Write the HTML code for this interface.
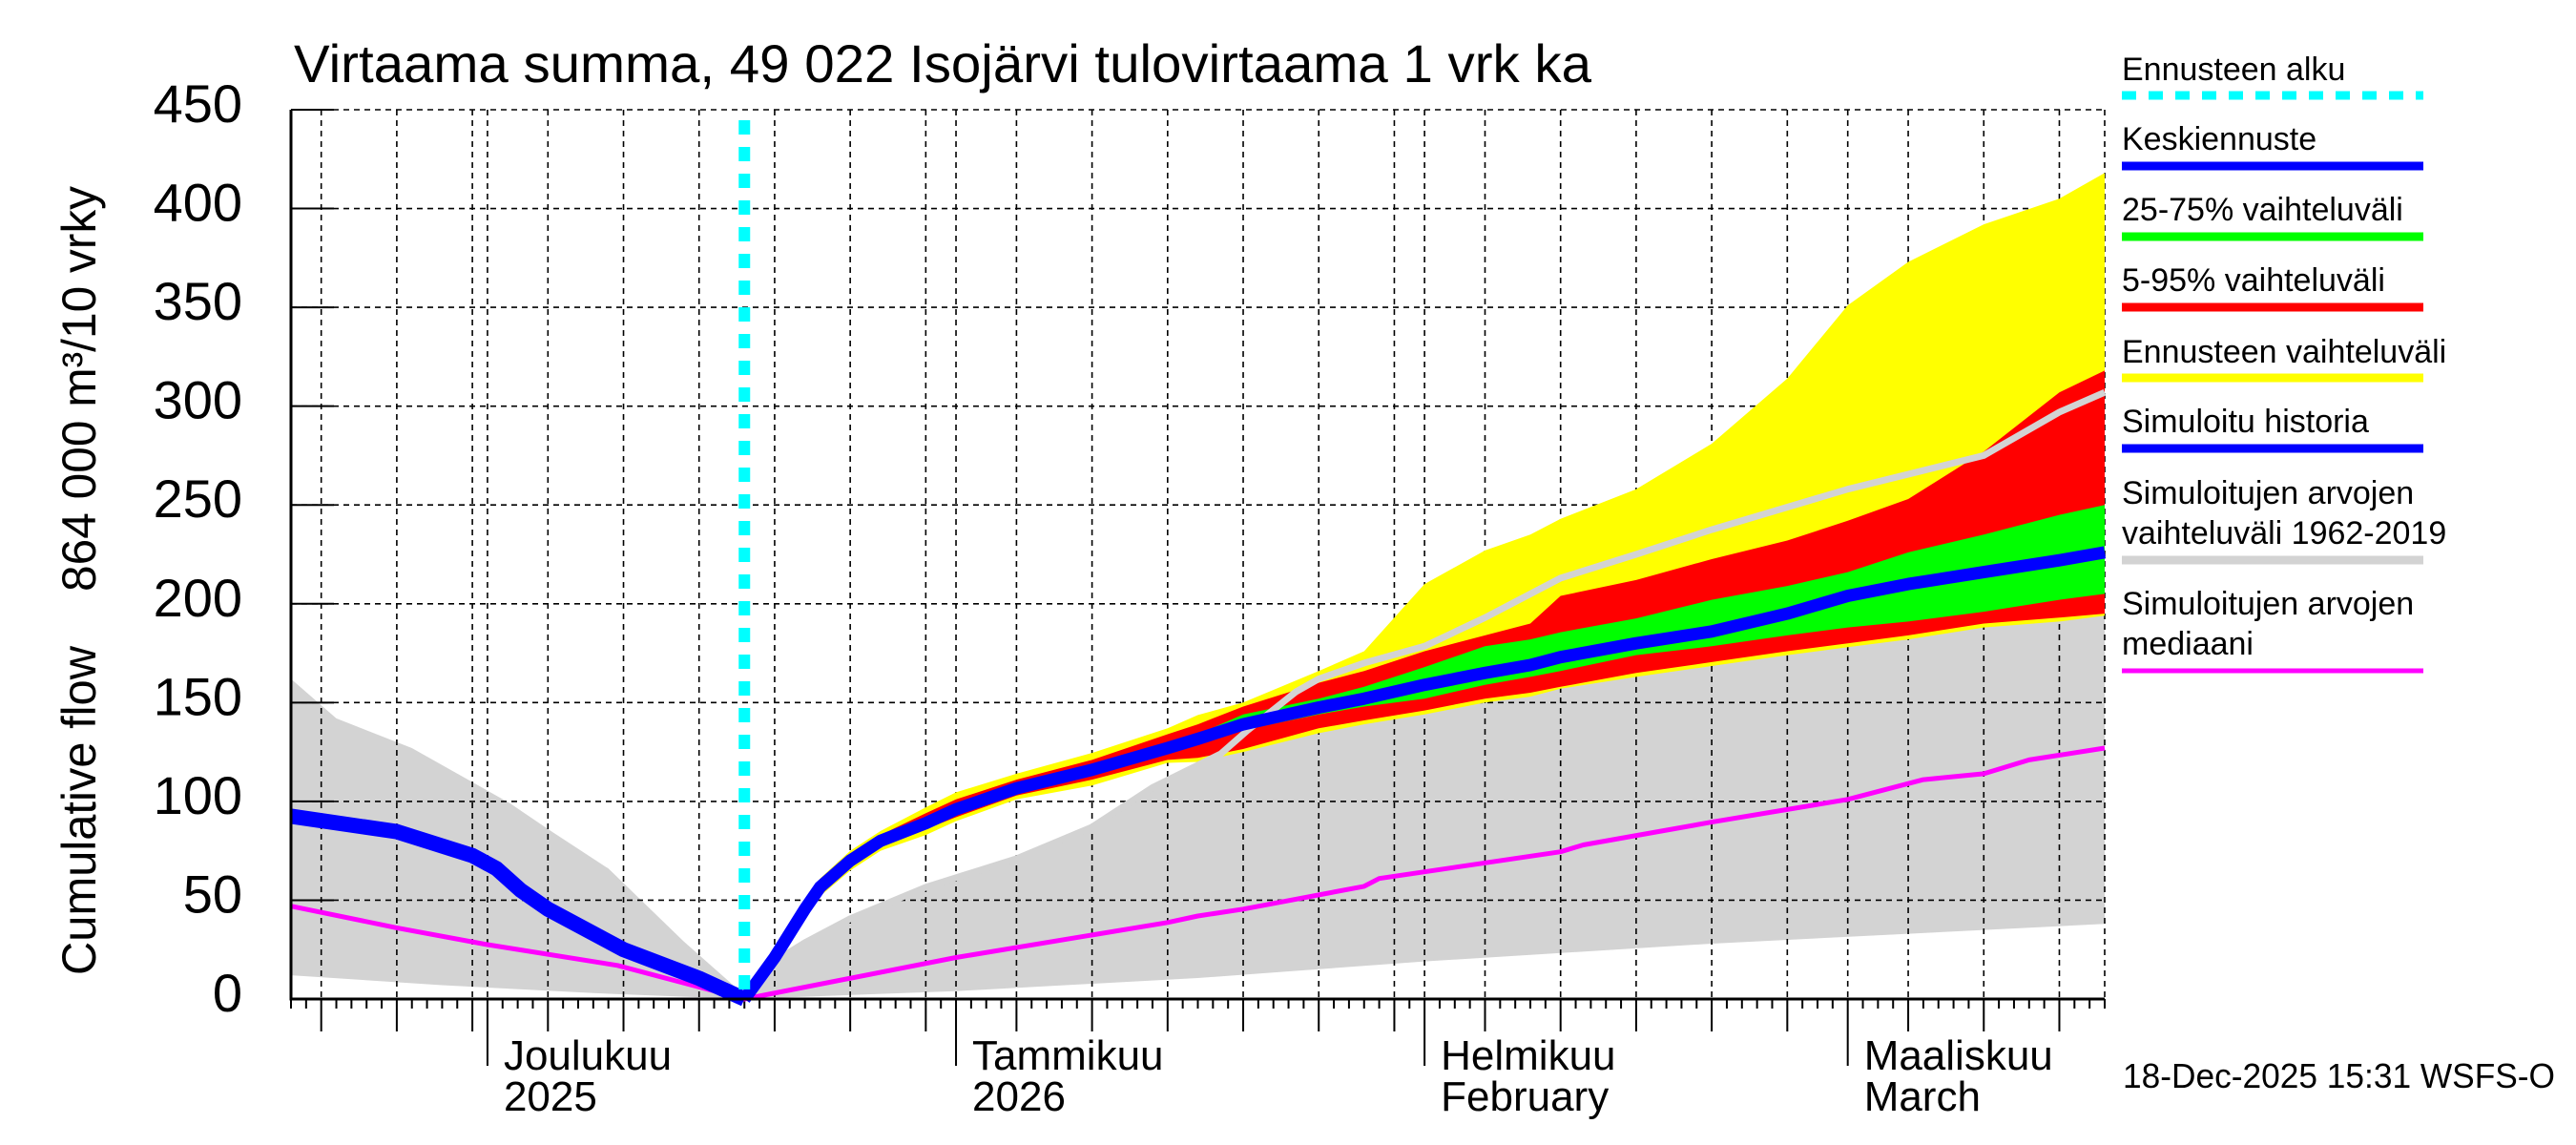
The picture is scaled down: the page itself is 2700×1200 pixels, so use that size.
<!DOCTYPE html>
<html><head><meta charset="utf-8"><style>
html,body{margin:0;padding:0;background:#fff;}
svg{display:block;font-family:"Liberation Sans",sans-serif;}
</style></head><body>
<svg id="chart" width="2700" height="1200" viewBox="0 0 2700 1200" xmlns="http://www.w3.org/2000/svg">
<rect x="0" y="0" width="2700" height="1200" fill="#fff"/>
<g id="plot"></g>
<text x="308" y="86" font-size="56" textLength="1360" lengthAdjust="spacingAndGlyphs">Virtaama summa, 49 022 Isojärvi tulovirtaama 1 vrk ka</text>
<text transform="translate(100,1022) rotate(-90)" font-size="50" textLength="345" lengthAdjust="spacingAndGlyphs">Cumulative flow</text>
<text transform="translate(100,620) rotate(-90)" font-size="50" textLength="425" lengthAdjust="spacingAndGlyphs">864 000 m³/10 vrky</text>
<g font-size="34">
<text x="2224" y="84">Ennusteen alku</text>
<line x1="2224" y1="100" x2="2540" y2="100" stroke="#00ffff" stroke-width="9" stroke-dasharray="15 13"/>
<text x="2224" y="157">Keskiennuste</text>
<line x1="2224" y1="174" x2="2540" y2="174" stroke="#0000ff" stroke-width="9"/>
<text x="2224" y="231">25-75% vaihteluväli</text>
<line x1="2224" y1="248" x2="2540" y2="248" stroke="#00ff00" stroke-width="9"/>
<text x="2224" y="305">5-95% vaihteluväli</text>
<line x1="2224" y1="322" x2="2540" y2="322" stroke="#ff0000" stroke-width="9"/>
<text x="2224" y="380">Ennusteen vaihteluväli</text>
<line x1="2224" y1="396" x2="2540" y2="396" stroke="#ffff00" stroke-width="9"/>
<text x="2224" y="453">Simuloitu historia</text>
<line x1="2224" y1="470" x2="2540" y2="470" stroke="#0000ff" stroke-width="9"/>
<text x="2224" y="528">Simuloitujen arvojen</text>
<text x="2224" y="570">vaihteluväli 1962-2019</text>
<line x1="2224" y1="587" x2="2540" y2="587" stroke="#d3d3d3" stroke-width="9"/>
<text x="2224" y="644">Simuloitujen arvojen</text>
<text x="2224" y="686">mediaani</text>
<line x1="2224" y1="703" x2="2540" y2="703" stroke="#ff00ff" stroke-width="5"/>
</g>
<text x="2225" y="1140" font-size="36" textLength="453" lengthAdjust="spacingAndGlyphs">18-Dec-2025 15:31 WSFS-O</text>
</svg>
<script>
// ---- data (day index 0 = 18 Nov 2025) ----
const yTicks = [0,50,100,150,200,250,300,350,400,450];
const histDays = [0,7,12,13.6,15.2,17,22,27,30];
const histVals = [92.5,84.7,72.6,66,55,45.5,25,10.5,0];
const fcDays = [30,32,34,35,37,39,42,44,48,53,58,60,63,68,71,75,79,82,84,89,94,99,103,107,112,117,120];
const fcMean = [0,21,45.5,56.6,70,80,89,96,106.6,116,127,131.6,139,147.5,152,159,165,169,173,180,186,195,204,210,216,222,226];
const fcMax = [0,23,50,61,75,85,97,104.6,114,124.5,137,143.7,150,166,176,210,227,235,243,258,281,314,351,373,392,405,418];
const fcP95 = [0,22,49,59,73,83,94,101,111,121,134,139,148,160,166,176,184,190,204,212,222.6,232,242,253,277,307,318];
const fcP75 = [0,21.5,47,58,71,81,91,97.5,108,118,129,134,144,152,158,168,178.5,182,185.6,192.6,202,209,216,226,235,245,250];
const fcP25 = [0,20.5,44,55,69,79,87,94.5,105,114,125,129,136,144,148,152,159,163,166,174,178.5,184,188,191,196,202,205];
const fcP05 = [0,20,43,54,67,77,86,92,103,111,121,122,126.5,137,141,146,152,155,158,165,170.5,176,180,184,190,193,195];
const fcMin = [0,19,42,52,65,75,83,90,101,108,119.5,120,125,134.5,139,144,150,153,157,163,168.5,174,178,182,188,191,194];
const simMaxDays = [0,3,8,14.5,17,21,26,30,32,34,37,42,48,53,57,61.5,63.3,66.5,68,71,75,79,84,89,94,103,112,117,120];
const simMaxVals = [162,142,127,99,86,66,29,2,19,28.5,40.6,56.6,71,87,107,124,136,155.5,162,170,178.5,193,213,225,237.5,258,275,297,307];
const simMinDays = [0,10,20,30,44,60,75,94,120];
const simMinVals = [12,7,3,0,4,10.6,19,28,38];
const medDays = [0,7,13,21.6,30,44,58,60,63,71,72,84,85.5,94,103,108,112,115,120];
const medVals = [47,36,27.5,17,0,21,38.7,42,45.5,57,61,74.5,78,89.5,101,111,114,121,127];
const forecastStartDay = 30;
const monthLabels = [["Joulukuu","2025"],["Tammikuu","2026"],["Helmikuu","February"],["Maaliskuu","March"]];

// ---- axes ----
const X0=305, X1=2206, Y0=1047, Y1=115, NDAYS=120;
const X = d => X0 + d*(X1-X0)/NDAYS;
const Y = v => Y0 - v*(Y0-Y1)/450;
const NS="http://www.w3.org/2000/svg";
const plot=document.getElementById('plot');
function mk(tag, attrs){const e=document.createElementNS(NS,tag);for(const k in attrs)e.setAttribute(k,attrs[k]);plot.appendChild(e);return e;}
const pts=(ds,vs)=>ds.map((d,i)=>X(d).toFixed(1)+','+Y(vs[i]).toFixed(1));

// grey sim range
let g=mk('polygon',{points:pts(simMaxDays,simMaxVals).concat(pts(simMinDays,simMinVals).reverse()).join(' '),fill:'#d3d3d3'});



// grid
const start=new Date(2025,10,18);
for(let d=0; d<=NDAYS; d++){
  const dt=new Date(start.getTime()+d*86400000);
  const dom=dt.getDate();
  const isMonth = dom===1, isGrid = dom%5===0 && dom<=30;
  const x=X(d);
  let len = isMonth?70:(isGrid?34:10);
  const t=mk('line',{x1:x,y1:Y0,x2:x,y2:Y0+len,stroke:'#000','stroke-width':2});
  
  
  if(isMonth||isGrid){
    const gl=mk('line',{x1:x,y1:Y1,x2:x,y2:Y0,stroke:'#000','stroke-width':1.6,'stroke-dasharray':'6 5'});
    
    
  }
  if(isMonth){
    const mi=dt.getMonth()===11?0:dt.getMonth()+1;
    const lab=monthLabels[mi];
    if(lab){
      const t1=mk('text',{x:x+17,y:1121,'font-size':44});t1.textContent=lab[0];
      
      
      const t2=mk('text',{x:x+17,y:1164,'font-size':44});t2.textContent=lab[1];
      
      
    }
  }
}
yTicks.forEach(v=>{
  const y=Y(v);
  const gl=mk('line',{x1:X0,y1:y,x2:X1,y2:y,stroke:'#000','stroke-width':1.6,'stroke-dasharray':'6 5'});
  
  
  const tk=mk('line',{x1:X0,y1:y,x2:X0+45,y2:y,stroke:'#000','stroke-width':2});
  
  
  const tl=mk('text',{x:254,y:y+13,'font-size':56,'text-anchor':'end'});tl.textContent=v;
  
  
});
const re=mk('line',{x1:X1,y1:Y1,x2:X1,y2:Y0,stroke:'#000','stroke-width':1.6,'stroke-dasharray':'6 5'});



// bands
function band(up,lo,color,name){
  const p=mk('polygon',{points:pts(fcDays,up).concat(pts(fcDays,lo).reverse()).join(' '),fill:color});
  
  
}
band(fcMax,fcMin,'#ffff00','forecast-range-band');
band(fcP95,fcP05,'#ff0000','band-5-95');
band(fcP75,fcP25,'#00ff00','band-25-75');

function line(ds,vs,color,w,name){
  const l=mk('polyline',{points:pts(ds,vs).join(' '),fill:'none',stroke:color,'stroke-width':w,'stroke-linejoin':'round'});
  
  
}
line(simMaxDays.filter(d=>d>=30),simMaxVals.filter((v,i)=>simMaxDays[i]>=30),'#d3d3d3',7,'sim-max-line');
line(medDays,medVals,'#ff00ff',5,'sim-median-line');
line(fcDays,fcMean,'#0000ff',13,'forecast-mean-line');
line(histDays,histVals,'#0000ff',16,'sim-history-line');

const fl=mk('line',{x1:X(forecastStartDay),y1:126,x2:X(forecastStartDay),y2:Y0,stroke:'#00ffff','stroke-width':12,'stroke-dasharray':'15 13'});



const ax1=mk('line',{x1:X0,y1:Y1,x2:X0,y2:Y0+1.5,stroke:'#000','stroke-width':3});


const ax2=mk('line',{x1:X0,y1:Y0,x2:X1,y2:Y0,stroke:'#000','stroke-width':3});


</script>
</body></html>
